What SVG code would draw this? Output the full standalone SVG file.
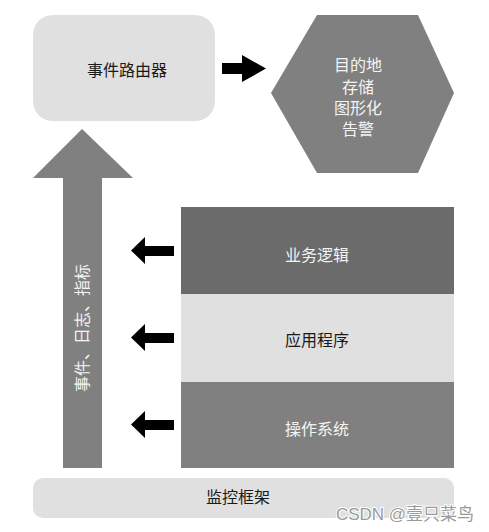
<svg xmlns="http://www.w3.org/2000/svg" width="489" height="532" viewBox="0 0 489 532">
<style>
text{font-family:"Liberation Sans","Noto Sans CJK SC",sans-serif;font-size:16px;text-anchor:middle;dominant-baseline:central}
.w{fill:#f4f4f4}
.k{fill:#1a1a1a}
.light{fill:#e0e0e0}
.mid{fill:#808080}
.dark{fill:#6b6b6b}
.blk{fill:#000}
</style>
<rect width="489" height="532" fill="#fff"/>
<g id="router">
<rect class="light" x="33" y="15" width="182" height="106" rx="20"/>
<text class="k" x="127" y="70">事件路由器</text>
</g>
<g id="destination">
<polygon class="mid" points="271,93 317,15 418,15 454,93 418,173 317,173"/>
<text class="w" x="358" y="65">目的地</text>
<text class="w" x="358" y="87">存储</text>
<text class="w" x="358" y="108">图形化</text>
<text class="w" x="358" y="129">告警</text>
</g>
<g id="events">
<polygon class="mid" points="82,129 133,178 102,178 102,468 63,468 63,178 33,178"/>
<text class="w" transform="translate(82,328) rotate(-90)">事件、日志、指标</text>
</g>
<g id="business">
<rect class="dark" x="181" y="207" width="273" height="88"/>
<text class="w" x="317" y="255">业务逻辑</text>
</g>
<g id="app">
<rect class="light" x="181" y="294" width="273" height="88"/>
<text class="k" x="317" y="340">应用程序</text>
</g>
<g id="os">
<rect class="mid" x="181" y="382" width="273" height="86"/>
<text class="w" x="317" y="429">操作系统</text>
</g>
<g id="framework">
<rect class="light" x="33" y="478" width="421" height="40" rx="10"/>
<text class="k" x="238" y="497">监控框架</text>
</g>
<g id="connectors">
<polygon class="blk" points="222,63 242,63 242,55 266,68.5 242,82 242,74 222,74"/>
<polygon class="blk" points="174,246 145,246 145,237 131,250.5 145,264 145,256 174,256"/>
<polygon class="blk" points="174,333 145,333 145,324 131,337.5 145,351 145,343 174,343"/>
<polygon class="blk" points="174,420 145,420 145,411 131,424.5 145,438 145,430 174,430"/>
</g>
<text x="405" y="514" style="font-size:17px;fill:#9a9a9a;paint-order:stroke;stroke:#fff;stroke-width:2">CSDN @壹只菜鸟</text>
</svg>
